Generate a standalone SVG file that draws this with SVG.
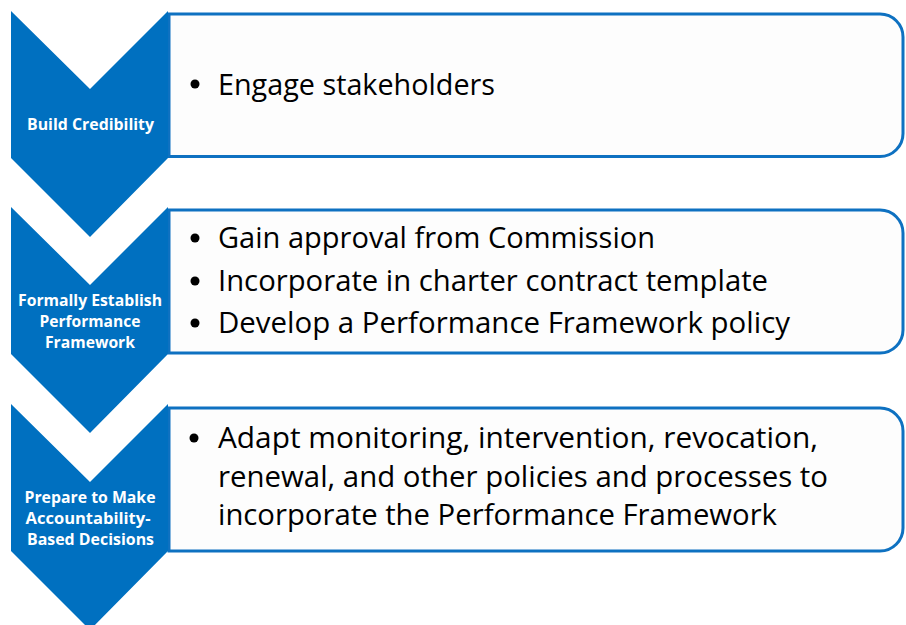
<svg xmlns="http://www.w3.org/2000/svg" width="906" height="625" viewBox="0 0 906 625">
<defs>
<style>
.chev{fill:#0070C0;}
.box{fill:#FDFDFD;stroke:#0E71C1;stroke-width:3;}
.lbl{font-family:"Open Sans","Liberation Sans",sans-serif;font-weight:bold;font-size:16.5px;fill:#FFFFFF;}
.txt{font-family:"Open Sans","Liberation Sans",sans-serif;font-size:29px;fill:#000000;}
.bul{fill:#000000;}
</style>
</defs>
<rect x="0" y="0" width="906" height="625" fill="#FFFFFF"/>
<g id="step1">
<path class="box" d="M169,14 H880 A23,23 0 0 1 903,37 V133.5 A23,23 0 0 1 880,156.5 H169 Z"/>
<polygon class="chev" points="11,11 90,89 168,11 168,158 90,237 11,158"/>
<text class="lbl" x="90.5" y="129.5" text-anchor="middle" textLength="127" lengthAdjust="spacingAndGlyphs">Build Credibility</text>
<circle class="bul" cx="195" cy="84" r="4.5"/>
<text class="txt" x="218" y="95" textLength="277" lengthAdjust="spacingAndGlyphs">Engage stakeholders</text>
</g>
<g id="step2">
<path class="box" d="M169,210 H880 A23,23 0 0 1 903,233 V330 A23,23 0 0 1 880,353 H169 Z"/>
<polygon class="chev" points="11,207 90,285 168,207 168,354 90,433 11,354"/>
<text class="lbl" x="90" y="306" text-anchor="middle" textLength="144" lengthAdjust="spacingAndGlyphs">Formally Establish</text>
<text class="lbl" x="90" y="327" text-anchor="middle" textLength="101" lengthAdjust="spacingAndGlyphs">Performance</text>
<text class="lbl" x="90" y="348" text-anchor="middle" textLength="90" lengthAdjust="spacingAndGlyphs">Framework</text>
<circle class="bul" cx="195" cy="238" r="4.5"/>
<text class="txt" x="218" y="248" textLength="437" lengthAdjust="spacingAndGlyphs">Gain approval from Commission</text>
<circle class="bul" cx="195" cy="281" r="4.5"/>
<text class="txt" x="218" y="291" textLength="550" lengthAdjust="spacingAndGlyphs">Incorporate in charter contract template</text>
<circle class="bul" cx="195" cy="323" r="4.5"/>
<text class="txt" x="218" y="333" textLength="572" lengthAdjust="spacingAndGlyphs">Develop a Performance Framework policy</text>
</g>
<g id="step3">
<path class="box" d="M169,408 H880 A23,23 0 0 1 903,431 V528 A23,23 0 0 1 880,551 H169 Z"/>
<polygon class="chev" points="11,404 90,482 168,404 168,551 90,630 11,551"/>
<text class="lbl" x="90" y="503" text-anchor="middle" textLength="131" lengthAdjust="spacingAndGlyphs">Prepare to Make</text>
<text class="lbl" x="88" y="524" text-anchor="middle" textLength="125" lengthAdjust="spacingAndGlyphs">Accountability-</text>
<text class="lbl" x="90.5" y="545" text-anchor="middle" textLength="127" lengthAdjust="spacingAndGlyphs">Based Decisions</text>
<circle class="bul" cx="194" cy="438" r="4.5"/>
<text class="txt" x="218" y="448" textLength="600" lengthAdjust="spacingAndGlyphs">Adapt monitoring, intervention, revocation,</text>
<text class="txt" x="218" y="487" textLength="610" lengthAdjust="spacingAndGlyphs">renewal, and other policies and processes to</text>
<text class="txt" x="218" y="525" textLength="559" lengthAdjust="spacingAndGlyphs">incorporate the Performance Framework</text>
</g>
<g id="connectors"></g>
</svg>
